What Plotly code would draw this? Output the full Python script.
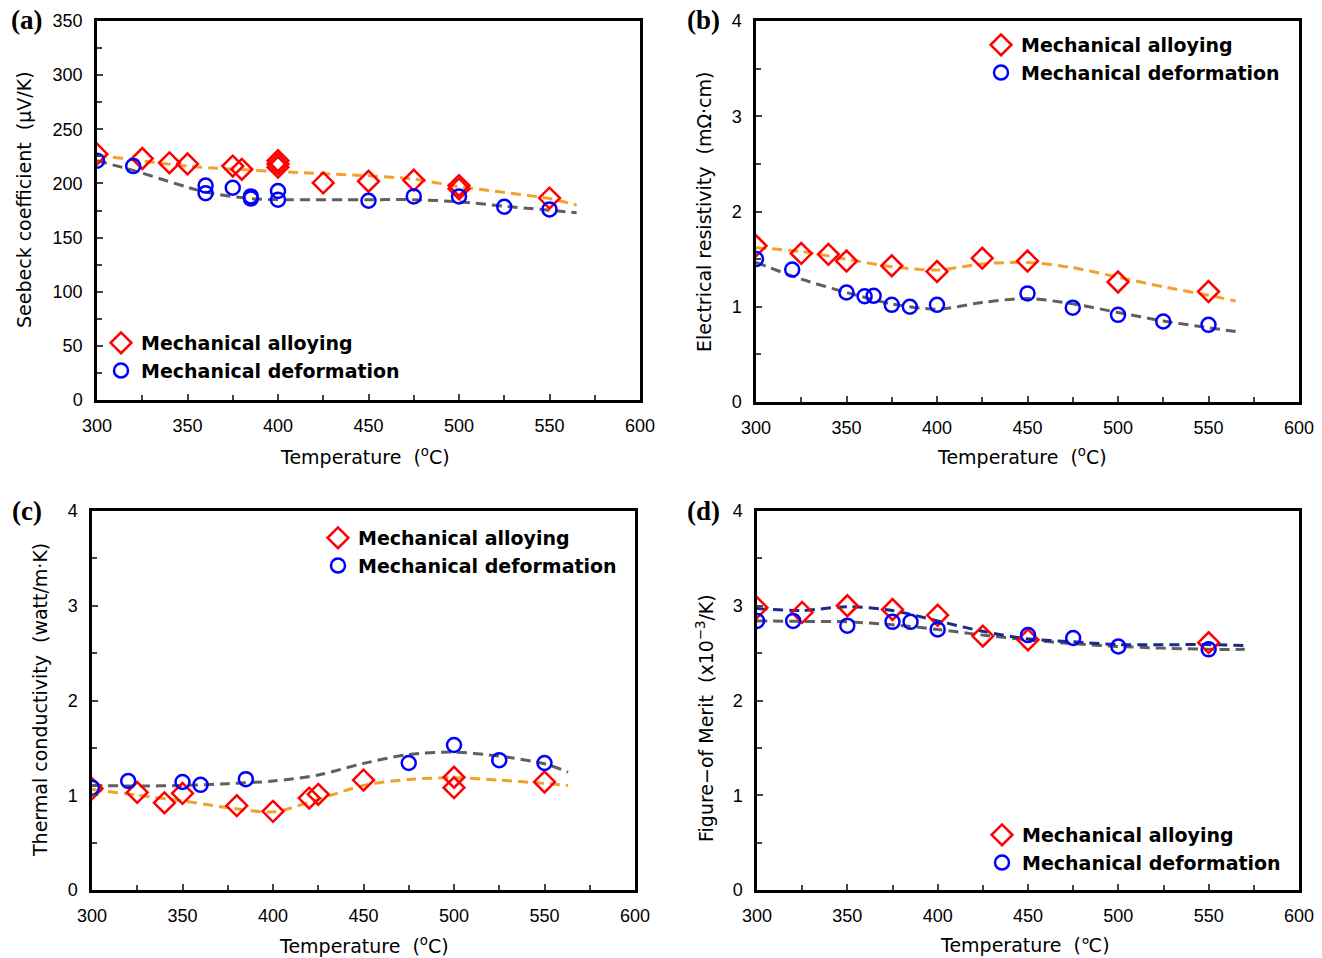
import plotly.graph_objects as go

# ---------------- data ----------------
# (a) Seebeck coefficient (uV/K)
a_ma_T = [300, 325, 340, 350, 375, 380, 400, 400, 400, 425, 450, 475, 500, 500, 550]
a_ma_v = [227, 223, 219, 218, 216, 213, 221, 218, 215, 200.5, 202, 203, 198, 195, 186.5]
a_md_T = [300, 320, 360, 360, 375, 385, 385, 400, 400, 450, 475, 500, 525, 550]
a_md_v = [221, 216, 198, 191, 196, 188, 186, 193, 185, 184, 188, 188, 178.5, 176]
a_fit_ma_T = [300, 350, 400, 450, 475, 500, 550, 565]
a_fit_ma_v = [226, 216, 211, 207, 204, 197, 186, 180]
a_fit_md_T = [300, 320, 360, 385, 400, 450, 475, 500, 525, 565]
a_fit_md_v = [221, 212, 192, 186, 185, 185, 185, 183, 179, 173]

# (b) Electrical resistivity (mOhm cm)
b_ma_T = [300, 325, 340, 350, 375, 400, 425, 450, 500, 550]
b_ma_v = [1.64, 1.56, 1.55, 1.48, 1.43, 1.37, 1.51, 1.48, 1.26, 1.16]
b_md_T = [300, 320, 350, 360, 365, 375, 385, 400, 450, 475, 500, 525, 550]
b_md_v = [1.50, 1.39, 1.15, 1.11, 1.115, 1.02, 1.00, 1.02, 1.14, 0.99, 0.915, 0.845, 0.81]
b_fit_T = [300, 325, 350, 375, 400, 425, 450, 475, 500, 525, 550, 565]
b_fit_ma_v = [1.62, 1.58, 1.50, 1.42, 1.385, 1.45, 1.465, 1.41, 1.31, 1.21, 1.12, 1.06]
b_fit_md_v = [1.465, 1.29, 1.15, 1.03, 0.975, 1.045, 1.087, 1.03, 0.94, 0.85, 0.78, 0.74]

# (c) Thermal conductivity (watt/m K)
c_ma_T = [300, 325, 340, 350, 380, 400, 420, 425, 450, 500, 500, 550]
c_ma_v = [1.07, 1.03, 0.92, 1.02, 0.89, 0.83, 0.97, 1.01, 1.16, 1.19, 1.08, 1.14]
c_md_T = [300, 320, 350, 360, 385, 475, 500, 525, 550]
c_md_v = [1.08, 1.15, 1.14, 1.11, 1.17, 1.34, 1.53, 1.37, 1.34]
c_fit_T = [300, 325, 350, 375, 400, 425, 450, 475, 500, 525, 550, 563]
c_fit_ma_v = [1.062, 1.0, 0.94, 0.87, 0.824, 0.957, 1.104, 1.167, 1.185, 1.16, 1.125, 1.104]
c_fit_md_v = [1.104, 1.097, 1.104, 1.122, 1.15, 1.213, 1.336, 1.43, 1.455, 1.413, 1.332, 1.245]

# (d) Figure-of-merit (x10^-3 /K)
d_ma_T = [300, 325, 350, 375, 400, 425, 450, 550]
d_ma_v = [2.98, 2.93, 3.00, 2.96, 2.90, 2.68, 2.64, 2.61]
d_md_T = [300, 320, 350, 375, 385, 400, 450, 475, 500, 550]
d_md_v = [2.84, 2.84, 2.79, 2.83, 2.83, 2.75, 2.69, 2.66, 2.57, 2.54]
d_fit_T = [300, 325, 350, 375, 400, 425, 450, 475, 500, 550, 570]
d_fit_ma_v = [2.97, 2.95, 2.99, 2.95, 2.84, 2.73, 2.65, 2.62, 2.59, 2.59, 2.58]
d_fit_md_v = [2.84, 2.835, 2.83, 2.80, 2.75, 2.69, 2.64, 2.60, 2.57, 2.54, 2.54]

x_ticks = [300, 350, 400, 450, 500, 550, 600]
legend_names = ["Mechanical alloying", "Mechanical deformation"]

# ---------------- styling ----------------
RED = "#ff0000"
BLUE = "#0000ff"
ORANGE = "#f5a02a"
GRAY = "#5f5f5f"
NAVY = "#1c2a8a"
FONT = "Liberation Sans"
TFONT = "DejaVu Sans"
W, H = 1322, 958

def px_x(p):
    return p / W

def px_y(p):
    return 1 - p / H

panels = [
    dict(xd=(97, 640), yd=(21, 400), yr=(0, 350), dt=50, mdt=25),
    dict(xd=(756, 1299), yd=(21, 402), yr=(0, 4), dt=1, mdt=0.5),
    dict(xd=(92, 635), yd=(511, 890), yr=(0, 4), dt=1, mdt=0.5),
    dict(xd=(757, 1299), yd=(511, 890), yr=(0, 4), dt=1, mdt=0.5),
]

fig = go.Figure()

def add_panel(i, ma_T, ma_v, md_T, md_v, fits):
    xa = "x" if i == 0 else f"x{i+1}"
    ya = "y" if i == 0 else f"y{i+1}"
    leg = "legend" if i == 0 else f"legend{i+1}"
    for fx, fy, col in fits:
        fig.add_trace(go.Scatter(
            x=fx, y=fy, mode="lines", xaxis=xa, yaxis=ya, showlegend=False,
            line=dict(color=col, width=3, dash="10px,6px", shape="spline", smoothing=0.8),
            hoverinfo="skip"))
    fig.add_trace(go.Scatter(
        x=ma_T, y=ma_v, mode="markers", name=legend_names[0], xaxis=xa, yaxis=ya,
        legend=leg,
        marker=dict(symbol="diamond-open", size=16, color=RED, line=dict(width=2.5, color=RED))))
    fig.add_trace(go.Scatter(
        x=md_T, y=md_v, mode="markers", name=legend_names[1], xaxis=xa, yaxis=ya,
        legend=leg,
        marker=dict(symbol="circle-open", size=14, color=BLUE, line=dict(width=2.5, color=BLUE))))

add_panel(0, a_ma_T, a_ma_v, a_md_T, a_md_v,
          [(a_fit_ma_T, a_fit_ma_v, ORANGE), (a_fit_md_T, a_fit_md_v, GRAY)])
add_panel(1, b_ma_T, b_ma_v, b_md_T, b_md_v,
          [(b_fit_T, b_fit_ma_v, ORANGE), (b_fit_T, b_fit_md_v, GRAY)])
add_panel(2, c_ma_T, c_ma_v, c_md_T, c_md_v,
          [(c_fit_T, c_fit_ma_v, ORANGE), (c_fit_T, c_fit_md_v, GRAY)])
add_panel(3, d_ma_T, d_ma_v, d_md_T, d_md_v,
          [(d_fit_T, d_fit_md_v, GRAY), (d_fit_T, d_fit_ma_v, NAVY)])

layout = dict(
    width=W, height=H, margin=dict(l=0, r=0, t=0, b=0, autoexpand=False),
    paper_bgcolor="white", plot_bgcolor="white",
    font=dict(family=FONT, color="black"),
)

for i, p in enumerate(panels):
    sx = "" if i == 0 else str(i + 1)
    layout["xaxis" + sx] = dict(
        domain=[px_x(p["xd"][0]), px_x(p["xd"][1])], range=[300, 600],
        anchor="y" + sx, tickvals=x_ticks, ticks="inside", ticklen=6, tickwidth=2,
        showline=True, linewidth=2.5, linecolor="black", mirror=True,
        showgrid=False, zeroline=False, tickfont=dict(size=18, family=FONT),
        minor=dict(dtick=25, tick0=300, ticks="inside", ticklen=5, tickwidth=2, showgrid=False),
        ticklabelstandoff=8, automargin=False, fixedrange=True,
    )
    layout["yaxis" + sx] = dict(
        domain=[px_y(p["yd"][1]), px_y(p["yd"][0])], range=list(p["yr"]),
        anchor="x" + sx, dtick=p["dt"], tick0=0, ticks="inside", ticklen=6, tickwidth=2,
        showline=True, linewidth=2.5, linecolor="black", mirror=True,
        showgrid=False, zeroline=False, tickfont=dict(size=18, family=FONT),
        minor=dict(dtick=p["mdt"], tick0=0, ticks="inside", ticklen=5, tickwidth=2, showgrid=False),
        ticklabelstandoff=8, automargin=False, fixedrange=True,
    )

# legends
leg_pos = [(121, 343), (1001, 45), (338, 538), (1002, 835)]
for i, (mx, my) in enumerate(leg_pos):
    key = "legend" if i == 0 else f"legend{i+1}"
    layout[key] = dict(
        x=px_x(mx - 20), y=px_y(my - 19), xanchor="left", yanchor="top",
        bgcolor="rgba(0,0,0,0)", borderwidth=0, tracegroupgap=0,
        font=dict(size=19, family="DejaVu Sans", color="black", weight="bold"),
        itemsizing="trace",
    )

fig.update_layout(**layout)

# axis titles & panel labels
ann = []
xt = [(365, 456, "Temperature  (<sup>o</sup>C)"), (1022, 456, "Temperature  (<sup>o</sup>C)"),
      (364, 945, "Temperature  (<sup>o</sup>C)"), (1025, 945, "Temperature  (℃)")]
for x, y, t in xt:
    ann.append(dict(x=px_x(x), y=px_y(y), xref="paper", yref="paper", text=t, showarrow=False,
                    font=dict(size=19, family=TFONT), xanchor="center", yanchor="middle"))
yt = [(24, 200, "Seebeck coefficient  (μV/K)"), (704, 212, "Electrical resistivity  (mΩ·cm)"),
      (40, 700, "Thermal conductivity  (watt/m·K)"), (705, 718, "Figure−of Merit  (x10<sup>−3</sup>/K)")]
for x, y, t in yt:
    ann.append(dict(x=px_x(x), y=px_y(y), xref="paper", yref="paper", text=t, showarrow=False,
                    textangle=-90, font=dict(size=19, family=TFONT), xanchor="center", yanchor="middle"))
pl = [(27, 20, "(a)"), (703, 20, "(b)"), (27, 511, "(c)"), (703, 511, "(d)")]
for x, y, t in pl:
    ann.append(dict(x=px_x(x), y=px_y(y), xref="paper", yref="paper", text="<b>" + t + "</b>",
                    showarrow=False, font=dict(size=27, family="Liberation Serif"),
                    xanchor="center", yanchor="middle"))
fig.update_layout(annotations=ann)

fig.write_html("out.html")
